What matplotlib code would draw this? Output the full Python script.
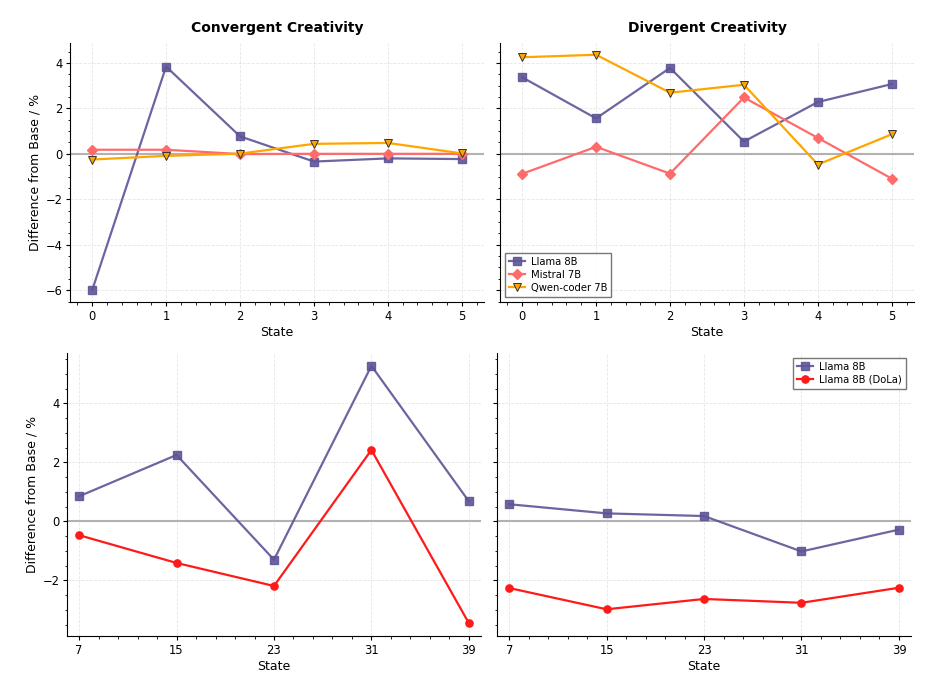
import matplotlib
matplotlib.use("Agg")
import matplotlib.pyplot as plt
from matplotlib.ticker import AutoMinorLocator

# ---- data ----
states_top = [0, 1, 2, 3, 4, 5]
conv_llama = [-6.0, 3.84, 0.77, -0.34, -0.20, -0.23]
conv_mistral = [0.18, 0.18, -0.01, 0.0, 0.0, 0.0]
conv_qwen = [-0.25, -0.09, 0.01, 0.44, 0.48, 0.02]
div_llama = [3.37, 1.56, 3.78, 0.54, 2.28, 3.07]
div_mistral = [-0.88, 0.31, -0.87, 2.48, 0.70, -1.09]
div_qwen = [4.25, 4.36, 2.69, 3.04, -0.47, 0.86]

states_bot = [7, 15, 23, 31, 39]
conv_llama_l = [0.85, 2.25, -1.30, 5.27, 0.68]
conv_dola = [-0.47, -1.41, -2.19, 2.42, -3.45]
div_llama_l = [0.58, 0.27, 0.18, -1.02, -0.28]
div_dola = [-2.26, -2.98, -2.63, -2.76, -2.25]

titles = ["Convergent Creativity", "Divergent Creativity"]
ylabel = "Difference from Base / %"
xlabel = "State"

C_LLAMA = "#5c5596"
C_MISTRAL = "#ff6b6b"
C_QWEN = "#ffa500"
C_DOLA = "#ff1a1a"

fig = plt.figure(figsize=(9.38, 6.92), dpi=100)
ax_tl = fig.add_axes([0.0746, 0.5636, 0.4414, 0.3743])
ax_tr = fig.add_axes([0.533, 0.5636, 0.4414, 0.3743], sharey=ax_tl)
ax_bl = fig.add_axes([0.0714, 0.0809, 0.4414, 0.409])
ax_br = fig.add_axes([0.5299, 0.0809, 0.4414, 0.409], sharey=ax_bl)

def style(ax, xticks, xlim):
    for s in ["top", "right"]:
        ax.spines[s].set_visible(False)
    ax.axhline(0, color="gray", alpha=0.6, lw=1.5, zorder=1)
    ax.set_xticks(xticks)
    ax.set_xlim(*xlim)
    ax.xaxis.set_minor_locator(AutoMinorLocator(5))
    ax.yaxis.set_minor_locator(AutoMinorLocator())
    ax.grid(True, which="major", ls="--", lw=0.6, alpha=0.3)
    ax.tick_params(labelsize=8.3, length=3, pad=2.5)
    ax.tick_params(which="minor", length=1.8)
    ax.set_xlabel(xlabel, fontsize=9, labelpad=2.5)

mk = dict(markersize=5.2, lw=1.6)
for ax, ll, mi, qw, t in [(ax_tl, conv_llama, conv_mistral, conv_qwen, titles[0]),
                          (ax_tr, div_llama, div_mistral, div_qwen, titles[1])]:
    ax.plot(states_top, ll, marker="s", color=C_LLAMA, alpha=0.9, label="Llama 8B", zorder=3, **mk)
    ax.plot(states_top, mi, marker="D", color=C_MISTRAL, label="Mistral 7B", zorder=3, markersize=4.8, lw=1.6)
    ax.plot(states_top, qw, marker="v", color=C_QWEN, mec="#333333", mew=0.7, label="Qwen-coder 7B", zorder=3, **mk)
    style(ax, states_top, (-0.3, 5.3))
    ax.set_title(t, fontsize=10, fontweight="bold", pad=8)

for ax, ll, dl in [(ax_bl, conv_llama_l, conv_dola), (ax_br, div_llama_l, div_dola)]:
    ax.plot(states_bot, ll, marker="s", color=C_LLAMA, alpha=0.9, label="Llama 8B", zorder=3, **mk)
    ax.plot(states_bot, dl, marker="o", color=C_DOLA, label="Llama 8B (DoLa)", zorder=3, **mk)
    style(ax, states_bot, (6, 40))

ax_tl.set_ylabel(ylabel, fontsize=9, labelpad=3)
ax_bl.set_ylabel(ylabel, fontsize=9, labelpad=3)
ax_tl.set_yticks([-6, -4, -2, 0, 2, 4])
ax_bl.set_yticks([-2, 0, 2, 4])
plt.setp(ax_tr.get_yticklabels(), visible=False)
plt.setp(ax_br.get_yticklabels(), visible=False)

legkw = dict(fontsize=7.2, fancybox=False, edgecolor="#555555", handlelength=1.6,
             labelspacing=0.3, borderpad=0.4, handletextpad=0.6)
ax_tr.legend(loc="lower left", **legkw)
ax_br.legend(loc="upper right", **legkw)

fig.savefig("out.png", dpi=100)
